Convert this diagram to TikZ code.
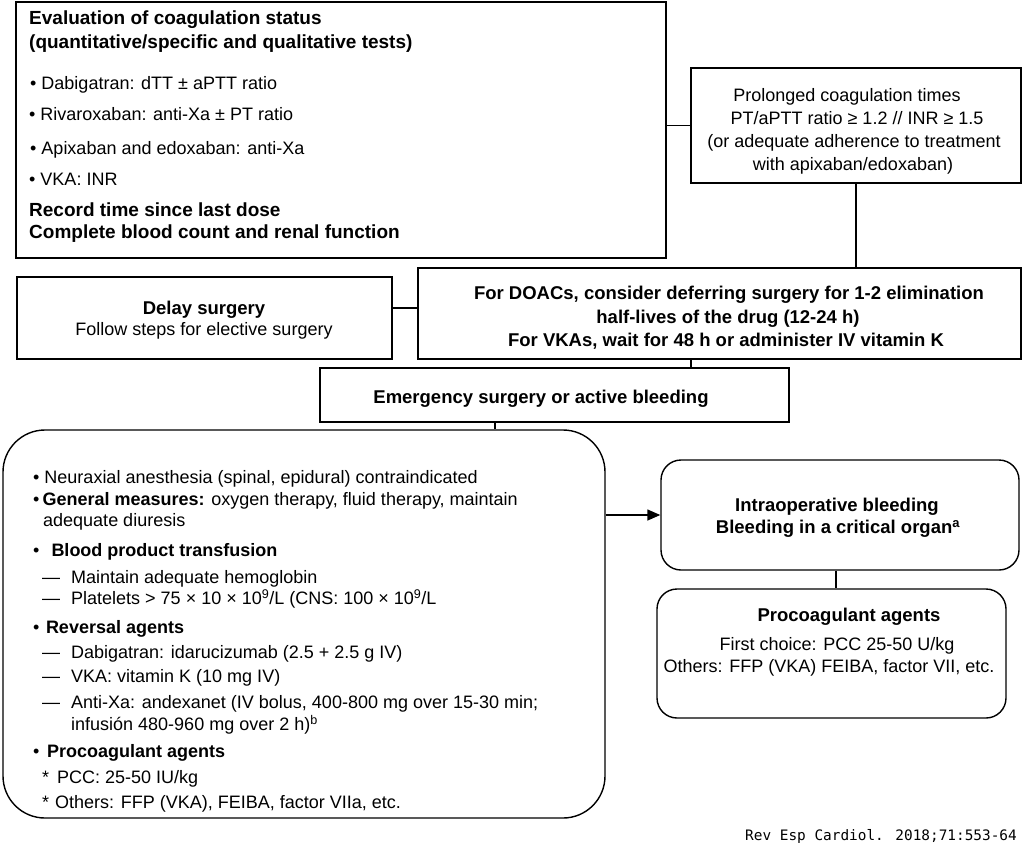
\documentclass[tikz,border=0pt]{standalone}
\usepackage{fontspec}
\setmainfont{Liberation Sans}
\newfontfamily\footfont{DejaVu Sans Mono}
\usetikzlibrary{calc,arrows.meta}
\begin{document}
\begin{tikzpicture}[x=1pt,y=-1pt,
  box/.style={draw,line width=1.4pt,inner sep=0pt},
  rbox/.style={box,rounded corners=20pt},
  txt/.style={inner sep=0pt,anchor=base west,yshift=-6.5pt,font=\fontsize{18}{21}\selectfont},
  btxt/.style={txt,font=\fontsize{18.5}{21}\selectfont\bfseries},
  hbtxt/.style={txt,font=\fontsize{19}{22}\selectfont\bfseries},
  ctxt/.style={txt,anchor=base},
  cbtxt/.style={btxt,anchor=base},
  link/.style={line width=1.4pt}]
\useasboundingbox (0,0) rectangle (1024,860);

% boxes
\node[box,minimum width=650pt,minimum height=256pt] (eval) at (341,130) {};
\node[box,minimum width=330pt,minimum height=115pt] (prol) at (856,125.5) {};
\node[box,minimum width=375pt,minimum height=82pt] (delay) at (204.5,318) {};
\node[box,minimum width=603pt,minimum height=91pt] (doac) at (719.5,313.5) {};
\node[box,minimum width=469pt,minimum height=54pt] (emerg) at (554.5,395) {};
\node[box,rounded corners=42pt,minimum width=602pt,minimum height=388pt] (big) at (304,624) {};
\node[rbox,minimum width=358pt,minimum height=110pt] (intra) at (840,515) {};
\node[rbox,minimum width=349pt,minimum height=129pt] (proc) at (831.5,653.5) {};

% connectors
\draw[link] (prol.west -| eval.east) -- (prol.west);
\draw[link] (prol.south) -- (prol.south |- doac.north);
\coordinate (dl) at ($(delay.east)+(0,-10)$);
\draw[link] (dl) -- (dl -| doac.west);
\coordinate (dd) at ($(doac.south)+(-28.5,0)$);
\draw[link] (dd) -- (dd |- emerg.north);
\coordinate (ed) at ($(emerg.south)+(-59.5,0)$);
\draw[link] (ed) -- (ed |- big.north);
\draw[link,-{Triangle[length=13pt,width=11pt]}] (intra.west -| big.east) -- (intra.west);
\coordinate (ip) at ($(intra.south)+(-4,0)$);
\draw[link] (ip) -- (ip |- proc.north);

% evaluation box text
\node[hbtxt] (e1) at (29,18) {Evaluation of coagulation status};
\node[hbtxt] (e2) at (29,42) {(quantitative/specific and qualitative tests)};
\node[txt] (e3) at (30,83) {• Dabigatran: dTT ± aPTT ratio};
\node[txt] (e4) at (29,114) {• Rivaroxaban: anti-Xa ± PT ratio};
\node[txt] (e5) at (30,148) {• Apixaban and edoxaban: anti-Xa};
\node[txt] (e6) at (29,179) {• VKA: INR};
\node[hbtxt] (e7) at (29,210) {Record time since last dose};
\node[hbtxt] (e8) at (29,232) {Complete blood count and renal function};

% prolonged box
\node[ctxt] (p1) at (847,95) {Prolonged coagulation times};
\node[ctxt] (p2) at (857,118) {PT/aPTT ratio ≥ 1.2 // INR ≥ 1.5};
\node[ctxt] (p3) at (854,141) {(or adequate adherence to treatment};
\node[ctxt] (p4) at (853,164) {with apixaban/edoxaban)};

% delay box
\node[cbtxt] (d1) at (204,308) {Delay surgery};
\node[ctxt] (d2) at (204,329) {Follow steps for elective surgery};

% doac box
\node[cbtxt] (o1) at (729,293) {For DOACs, consider deferring surgery for 1-2 elimination};
\node[cbtxt] (o2) at (728,317) {half-lives of the drug (12-24 h)};
\node[cbtxt] (o3) at (726,340) {For VKAs, wait for 48 h or administer IV vitamin K};

% emergency
\node[cbtxt] (m1) at (541,397) {Emergency surgery or active bleeding};

% big box text
\node[txt] (b1) at (33,477) {• Neuraxial anesthesia (spinal, epidural) contraindicated};
\node[txt] (b2) at (33,499) {•\,\textbf{General measures:} oxygen therapy, fluid therapy, maintain};
\node[txt] (b3) at (43,520) {adequate diuresis};
\node[txt] (b4) at (33,550) {•\hspace{12pt}\textbf{Blood product transfusion}};
\node[txt] (b5) at (42,577) {—\hspace{11pt}Maintain adequate hemoglobin};
\node[txt] (b6) at (42,598) {—\hspace{11pt}Platelets > 75 × 10 × 10\textsuperscript{9}/L (CNS: 100 × 10\textsuperscript{9}/L};
\node[txt] (b7) at (33,627) {•\hspace{6.5pt}\textbf{Reversal agents}};
\node[txt] (b8) at (42,652) {—\hspace{11pt}Dabigatran: idarucizumab (2.5 + 2.5 g IV)};
\node[txt] (b9) at (42,676) {—\hspace{11pt}VKA: vitamin K (10 mg IV)};
\node[txt] (b10) at (42,702) {—\hspace{11pt}Anti-Xa: andexanet (IV bolus, 400-800 mg over 15-30 min;};
\node[txt] (b11) at (71,724) {infusión 480-960 mg over 2 h)\textsuperscript{b}};
\node[txt] (b12) at (33,751) {•\hspace{7.5pt}\textbf{Procoagulant agents}};
\node[txt] (b13) at (42,777) {*\hspace{8pt}PCC: 25-50 IU/kg};
\node[txt] (b14) at (42,802) {*\hspace{6pt}Others: FFP (VKA), FEIBA, factor VIIa, etc.};

% intraoperative
\node[cbtxt] (i1) at (837,505) {Intraoperative bleeding};
\node[cbtxt] (i2) at (838,527) {Bleeding in a critical organ\textsuperscript{a}};

% procoagulant
\node[cbtxt] (c1) at (849,615) {Procoagulant agents};
\node[ctxt] (c2) at (837,644) {First choice: PCC 25-50 U/kg};
\node[ctxt] (c3) at (829,666) {Others: FFP (VKA) FEIBA, factor VII, etc.};

% footer
\node[inner sep=0pt,anchor=base west,font=\footfont\fontsize{14.4}{16}\selectfont] (ft) at (745,840) {Rev Esp Cardiol. 2018;71:553-64};
\end{tikzpicture}
\end{document}
